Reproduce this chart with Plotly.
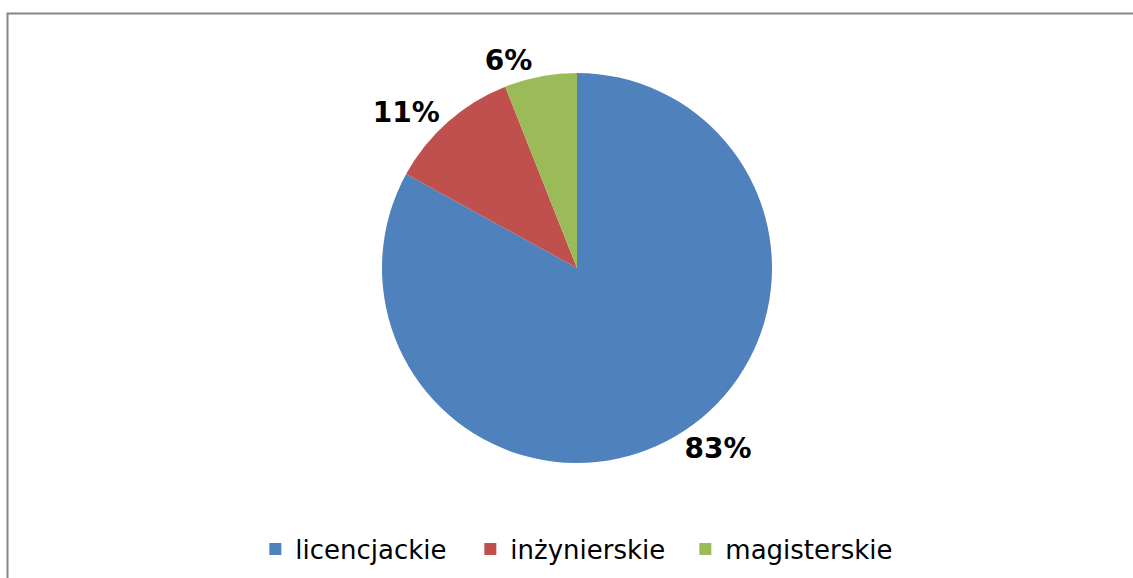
import plotly.graph_objects as go

# data
categories = ["licencjackie", "inżynierskie", "magisterskie"]
shares = [83, 11, 6]
colors = ["#4F81BD", "#C0504D", "#9BBB59"]

W, H = 1133, 578


def build_figure():
    fig = go.Figure(go.Pie(
        labels=categories,
        values=shares,
        sort=False,
        direction="clockwise",
        rotation=0,
        marker=dict(colors=colors, line=dict(width=0)),
        textinfo="percent",
        texttemplate="<b>%{percent:.0%}</b>",
        textposition="outside",
        outsidetextfont=dict(family="DejaVu Sans", size=28, color="black"),
        hoverinfo="label+percent",
        domain=dict(x=[382 / W, 772 / W], y=[1 - 463 / H, 1 - 73 / H]),
        automargin=False,
    ))

    fig.update_layout(
        width=W,
        height=H,
        margin=dict(l=0, r=0, t=0, b=0),
        paper_bgcolor="white",
        plot_bgcolor="white",
        showlegend=True,
        legend=dict(
            orientation="h",
            x=0.51, xanchor="center",
            y=1 - 549 / H, yanchor="middle",
            font=dict(family="DejaVu Sans", size=26, color="black"),
            itemsizing="constant",
            entrywidth=170,
            entrywidthmode="pixels",
        ),
        # chart frame (only top and left edges fall inside the picture)
        shapes=[dict(
            type="rect", xref="paper", yref="paper",
            x0=7.5 / W, x1=1.02, y0=-0.02, y1=1 - 13.5 / H,
            line=dict(color="#868686", width=2),
            fillcolor="rgba(0,0,0,0)",
        )],
    )
    return fig


def main():
    fig = build_figure()
    # drop the browser's default body margin so the figure sits at 0,0
    fig.write_html(
        "out.html",
        config={"displayModeBar": False},
        post_script="document.body.style.margin='0';",
    )


if __name__ == "__main__":
    main()
